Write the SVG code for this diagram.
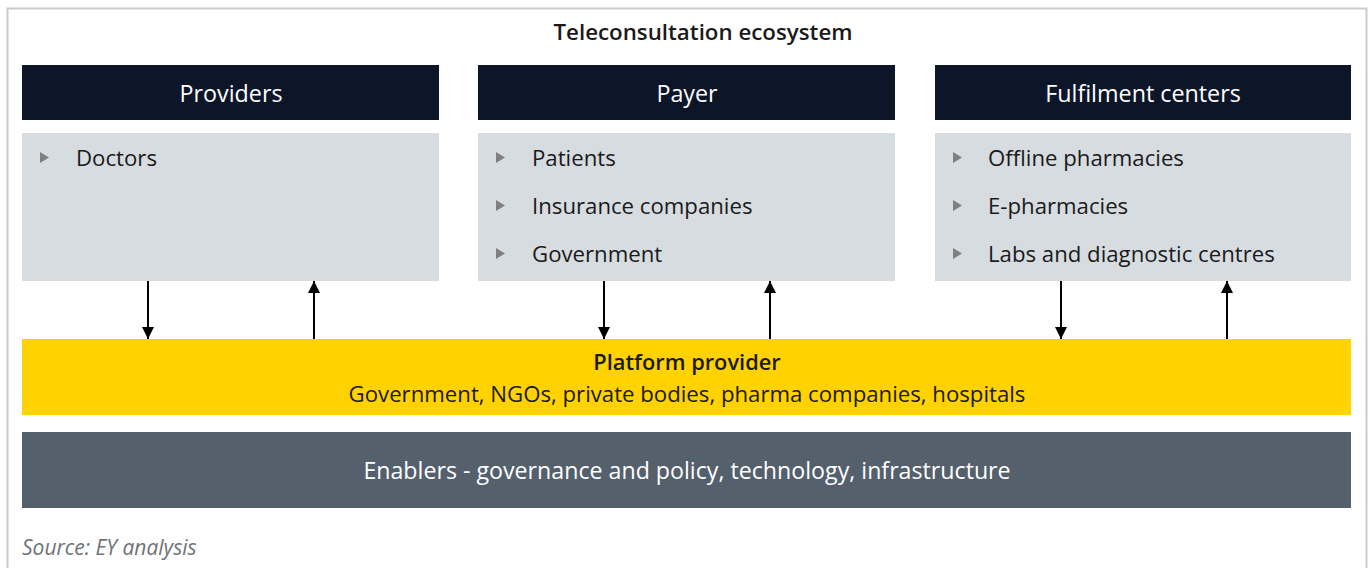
<svg xmlns="http://www.w3.org/2000/svg" width="1370" height="568" viewBox="0 0 1370 568">
<defs>
<style>
.t{font-family:"Open Sans","Liberation Sans",Arial,sans-serif;}
.hdr{fill:#0c1628;}
.hl{fill:#ffffff;font-size:23.3px;text-anchor:middle;}
.body{fill:#d7dce0;}
.it{fill:#1a1a1a;font-size:22.2px;}
.bul{fill:#7f7f7f;}
.con{stroke:#000;stroke-width:2;fill:none;marker-end:url(#ah);}
</style>
<marker id="ah" viewBox="0 0 10 10" refX="10" refY="5" markerWidth="6" markerHeight="6" orient="auto" markerUnits="strokeWidth"><path d="M0,0 L10,5 L0,10 z" fill="#000"/></marker>
</defs>
<rect x="0" y="0" width="1370" height="568" fill="#fff"/>
<path d="M7.5,568 V8.5 H1366.5 V568" fill="none" stroke="#c8ccd0" stroke-width="2"/>
<text class="t" x="703" y="40" font-size="22.3" font-weight="600" text-anchor="middle" fill="#1a1a1a">Teleconsultation ecosystem</text>

<g id="providers">
<rect class="hdr" x="22" y="65" width="417" height="55"/>
<text class="t hl" x="231" y="102">Providers</text>
<rect class="body" x="22" y="133" width="417" height="148"/>
<path class="bul" d="M40,152 L49,157.5 L40,163 z"/>
<text class="t it" x="76" y="166">Doctors</text>
</g>

<g id="payer">
<rect class="hdr" x="478" y="65" width="417" height="55"/>
<text class="t hl" x="687" y="102">Payer</text>
<rect class="body" x="478" y="133" width="417" height="148"/>
<path class="bul" d="M496,152 L505,157.5 L496,163 z"/>
<text class="t it" x="532" y="166">Patients</text>
<path class="bul" d="M496,200 L505,205.5 L496,211 z"/>
<text class="t it" x="532" y="214">Insurance companies</text>
<path class="bul" d="M496,248 L505,253.5 L496,259 z"/>
<text class="t it" x="532" y="262">Government</text>
</g>

<g id="fulfilment">
<rect class="hdr" x="935" y="65" width="416" height="55"/>
<text class="t hl" x="1143" y="102">Fulfilment centers</text>
<rect class="body" x="935" y="133" width="416" height="148"/>
<path class="bul" d="M953,152 L962,157.5 L953,163 z"/>
<text class="t it" x="988" y="166">Offline pharmacies</text>
<path class="bul" d="M953,200 L962,205.5 L953,211 z"/>
<text class="t it" x="988" y="214">E-pharmacies</text>
<path class="bul" d="M953,248 L962,253.5 L953,259 z"/>
<text class="t it" x="988" y="262">Labs and diagnostic centres</text>
</g>

<g id="platform">
<rect x="22" y="339" width="1329" height="76" fill="#ffd200"/>
<text class="t" x="687" y="370" font-size="21.8" font-weight="600" text-anchor="middle" fill="#1a1a1a">Platform provider</text>
<text class="t" x="687" y="402" font-size="22.2" text-anchor="middle" fill="#1a1a1a">Government, NGOs, private bodies, pharma companies, hospitals</text>
</g>

<g id="enablers">
<rect x="22" y="432" width="1329" height="76" fill="#54606c"/>
<text class="t" x="687" y="479" font-size="23.2" text-anchor="middle" fill="#ffffff">Enablers - governance and policy, technology, infrastructure</text>
</g>

<text id="source" class="t" x="22" y="555" font-size="21" font-style="italic" fill="#6e7378">Source: EY analysis</text>

<g id="connectors">
<line class="con" x1="148" y1="281" x2="148" y2="339"/>
<line class="con" x1="314" y1="339" x2="314" y2="281"/>
<line class="con" x1="604" y1="281" x2="604" y2="339"/>
<line class="con" x1="770" y1="339" x2="770" y2="281"/>
<line class="con" x1="1061" y1="281" x2="1061" y2="339"/>
<line class="con" x1="1227" y1="339" x2="1227" y2="281"/>
</g>
</svg>
